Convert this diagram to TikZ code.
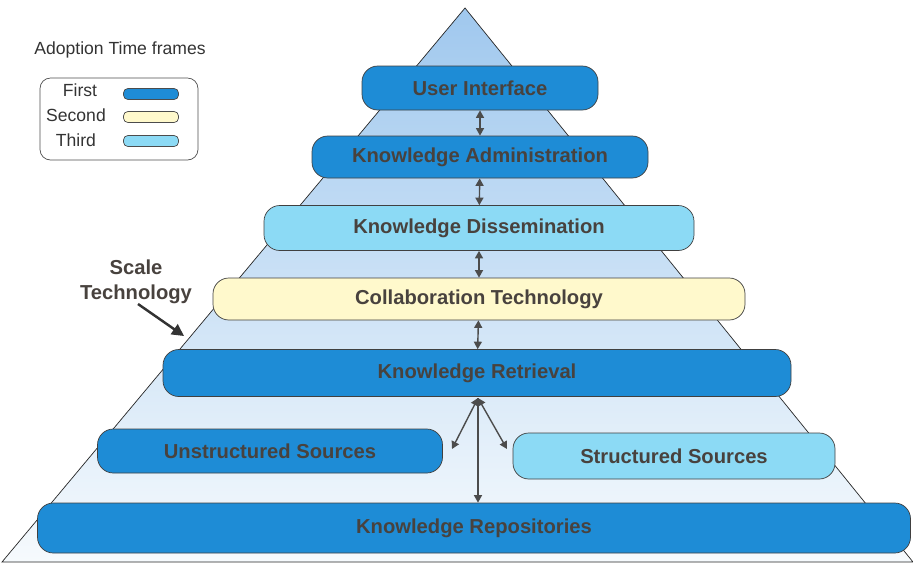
\documentclass[tikz,border=0pt]{standalone}
\usepackage{fontspec}
\setmainfont{Liberation Sans}
\usetikzlibrary{arrows.meta}
\definecolor{firstblue}{RGB}{30,140,214}
\definecolor{secondyellow}{RGB}{255,249,204}
\definecolor{thirdcyan}{RGB}{140,218,245}
\definecolor{pyrtop}{RGB}{160,200,238}
\definecolor{pyrbot}{RGB}{246,250,253}
\definecolor{labelgrey}{RGB}{72,66,62}

\begin{document}
\begin{tikzpicture}[
  x=0.02cm, y=-0.02cm,
  bar/.style={draw=black!75, rounded corners=9pt, inner sep=0pt,
              font=\fontsize{11.5}{13}\selectfont\bfseries, text=labelgrey},
  first/.style={bar, fill=firstblue},
  second/.style={bar, fill=secondyellow},
  third/.style={bar, fill=thirdcyan},
  swatch/.style={draw=black!70, rounded corners=2.5pt, minimum width=55*0.02cm,
                 minimum height=11*0.02cm, inner sep=0pt},
  legtext/.style={font=\fontsize{10}{12}\selectfont, text=black!80},
  arr/.style={-{Triangle[length=1.5mm,width=1.6mm]}, draw=black!70, thick},
  darr/.style={{Triangle[length=1.5mm,width=1.6mm]}-{Triangle[length=1.5mm,width=1.6mm]},
               draw=black!70, thick}
]
\useasboundingbox (0,0) rectangle (913,569);

% pyramid behind the layers
\draw[black!85, top color=pyrtop, bottom color=pyrbot]
  (465,8) -- (913,562) -- (2,562) -- cycle;

% layers
\node[first,  minimum width=236*0.02cm, minimum height=44*0.02cm] (ui)     at (480,88)  {User Interface};
\node[first,  minimum width=336*0.02cm, minimum height=42*0.02cm] (admin)  at (480,157) {Knowledge Administration};
\node[third,  minimum width=430*0.02cm, minimum height=45*0.02cm] (dissem) at (479,228) {Knowledge Dissemination};
\node[second, minimum width=532*0.02cm, minimum height=42*0.02cm] (collab) at (479,299) {Collaboration Technology};
\node[first,  minimum width=628*0.02cm, minimum height=47*0.02cm] (retr)   at (477,373) {Knowledge Retrieval};
\node[first,  minimum width=345*0.02cm, minimum height=44*0.02cm] (unstr)  at (270,451) {Unstructured Sources};
\node[third,  minimum width=322*0.02cm, minimum height=46*0.02cm] (struc)  at (674,456) {Structured Sources};
\node[first,  minimum width=873*0.02cm, minimum height=50*0.02cm] (repo)   at (474,528) {Knowledge Repositories};

% links between layers
\draw[darr] (ui)     -- (admin);
\draw[darr] (admin)  -- (dissem);
\draw[darr] (dissem) -- (collab);
\draw[darr] (collab) -- (retr);

\coordinate (hub) at (478,398);
\coordinate (usend) at (452,449);
\coordinate (stend) at (507,449);
\draw[arr] (hub) -- (repo.north -| hub);
\draw[darr] (usend) -- (hub);
\draw[darr] (stend) -- (hub);

% scale label
\node[font=\fontsize{11.5}{14}\selectfont\bfseries, text=labelgrey, align=center]
  (scale) at (136,282) {Scale\\Technology};
\coordinate (scaletip) at (184,336);
\draw[-{Triangle[length=2.4mm,width=2.4mm]}, draw=black!80, line width=1.4pt]
  (138,304) -- (scaletip);

% legend
\node[legtext] (legtitle) at (120,50) {Adoption Time frames};
\draw[black!70, rounded corners=6pt] (40,78) rectangle (198,160);
\node[legtext] (lfirst)  at (80,90)  {First};
\node[legtext] (lsecond) at (76,115) {Second};
\node[legtext] (lthird)  at (76,140) {Third};
\node[swatch, fill=firstblue]    (sfirst)  at (151,94)  {};
\node[swatch, fill=secondyellow] (ssecond) at (151,117) {};
\node[swatch, fill=thirdcyan]    (sthird)  at (151,141) {};
\end{tikzpicture}
\end{document}
